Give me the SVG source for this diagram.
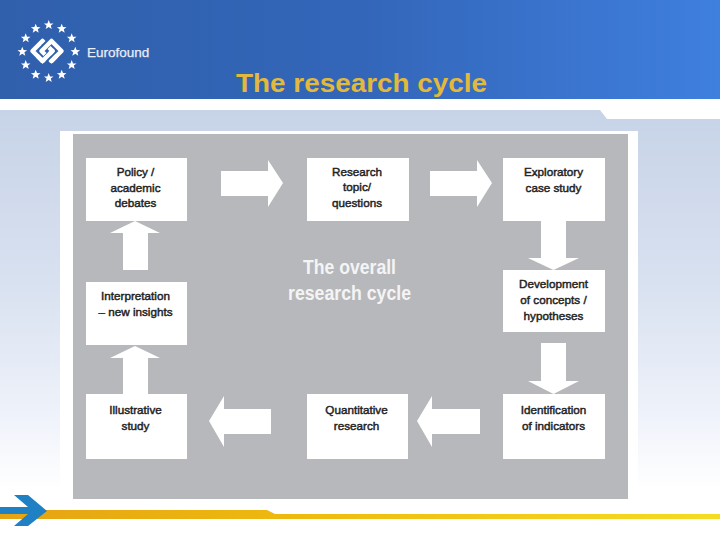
<svg xmlns="http://www.w3.org/2000/svg" width="720" height="540" viewBox="0 0 720 540">
<style>
.box{fill:#fff}
.arrow{fill:#fff}
text{font-family:"Liberation Sans",Arial,sans-serif}
.lbl{font-size:11.7px;fill:#222;stroke:#222;stroke-width:.45px;text-anchor:middle}
.big{font-size:20px;font-weight:bold;fill:#f4f4f5;text-anchor:middle}
.star{fill:#fff}
.lk{fill:none;stroke:#fff;stroke-width:4.5;stroke-linejoin:round;stroke-linecap:round}
.hl{fill:none;stroke:#3060aa;stroke-width:7}
</style>
<defs>
<linearGradient id="hd" x1="0" x2="1" y1="0" y2="0"><stop offset="0" stop-color="#3060ac"/><stop offset="0.5" stop-color="#3366b9"/><stop offset="1" stop-color="#3f7fde"/></linearGradient>
<linearGradient id="bg" x1="0" x2="0" y1="0" y2="1"><stop offset="0" stop-color="#c7d3e7"/><stop offset="0.45" stop-color="#d8e1f0"/><stop offset="0.8" stop-color="#eef2fa"/><stop offset="1" stop-color="#ffffff"/></linearGradient>
<linearGradient id="gold" x1="0" x2="1" y1="0" y2="0"><stop offset="0" stop-color="#e5a312"/><stop offset="0.4" stop-color="#eeb90f"/><stop offset="1" stop-color="#f5dc22"/></linearGradient>
<polygon id="s" points="0,-5 1.3,-1.6 4.8,-1.5 2.1,0.6 3,4 0,2 -3,4 -2.1,0.6 -4.8,-1.5 -1.3,-1.6"/>
</defs>
<rect width="720" height="540" fill="#fff"/>
<path d="M0 110H600L607 119H720V490H0Z" fill="url(#bg)"/>
<rect width="720" height="99" fill="url(#hd)"/>
<g id="logo">
<g class="star">
<use href="#s" x="48.7" y="25"/><use href="#s" x="61.7" y="28.7"/><use href="#s" x="71.7" y="38.3"/><use href="#s" x="75.3" y="51.7"/><use href="#s" x="71.7" y="65"/><use href="#s" x="61.7" y="74.7"/><use href="#s" x="48.7" y="78"/><use href="#s" x="35.7" y="74.7"/><use href="#s" x="25.700" y="65"/><use href="#s" x="22.300" y="51.7"/><use href="#s" x="25.700" y="38.3"/><use href="#s" x="35.700" y="28.7"/>
</g>
<path class="lk" d="M42.500 41L32.500 51L42.500 61L52.500 51Z"/>
<path class="hl" d="M44 47.500L49 42.500"/>
<path class="lk" d="M51.500 41L61.500 51L51.500 61L41.500 51Z"/>
<path class="hl" d="M45 54.500L50 59.500" stroke-width="6"/>
<path class="lk" d="M52.500 51L42.500 61"/>
<path class="lk" d="M42.500 61L38 56.500"/>
<path class="lk" d="M51.500 61L56 56.500"/>
<text x="87" y="56.500" font-size="13.500" fill="#e9eef7" stroke="#e9eef7" stroke-width=".25">Eurofound</text>
</g>
<text x="361.500" y="92" font-size="25.500" font-weight="bold" fill="#e2b93b" text-anchor="middle" textLength="251" lengthAdjust="spacingAndGlyphs">The research cycle</text>
<rect x="60" y="131" width="578" height="368" fill="#fff"/>
<rect x="73" y="134" width="555" height="365" fill="#b7b8bb"/>
<g id="connectors" class="arrow">
<polygon points="221,171 268,171 268,160 283,183 268,207 268,196 221,196"/>
<polygon points="430,171 477,171 477,160 492,183 477,207 477,196 430,196"/>
<polygon points="541,221 566,221 566,258 579,258 553.500,270 528,258 541,258"/>
<polygon points="541,343 566,343 566,381 579,381 553.500,394 528,381 541,381"/>
<polygon points="480,409 432,409 432,396 417,421 432,447 432,434 480,434"/>
<polygon points="271,409 224,409 224,396 209,421 224,447 224,434 271,434"/>
<polygon points="123,394 148,394 148,358 160,358 135,346 110,358 123,358"/>
<polygon points="123,270 148,270 148,233 160,233 135,221 110,233 123,233"/>
</g>
<g id="n1"><rect class="box" x="86" y="158" width="101" height="63"/><text class="lbl"><tspan x="135.500" y="176">Policy /</tspan><tspan x="135.500" y="191.500">academic</tspan><tspan x="135.500" y="207">debates</tspan></text></g>
<g id="n2"><rect class="box" x="307" y="158" width="102" height="63"/><text class="lbl"><tspan x="357" y="175.500">Research</tspan><tspan x="357" y="191">topic/</tspan><tspan x="357" y="207">questions</tspan></text></g>
<g id="n3"><rect class="box" x="503" y="158" width="102" height="63"/><text class="lbl"><tspan x="553.500" y="176">Exploratory</tspan><tspan x="553.500" y="192">case study</tspan></text></g>
<g id="n4"><rect class="box" x="503" y="270" width="102" height="62"/><text class="lbl"><tspan x="553.500" y="288">Development</tspan><tspan x="553.500" y="304">of concepts /</tspan><tspan x="553.500" y="320">hypotheses</tspan></text></g>
<g id="n5"><rect class="box" x="503" y="394" width="102" height="65"/><text class="lbl"><tspan x="553.500" y="414">Identification</tspan><tspan x="553.500" y="430">of indicators</tspan></text></g>
<g id="n6"><rect class="box" x="307" y="394" width="101" height="65"/><text class="lbl"><tspan x="356.500" y="414">Quantitative</tspan><tspan x="356.500" y="430">research</tspan></text></g>
<g id="n7"><rect class="box" x="86" y="394" width="101" height="65"/><text class="lbl"><tspan x="135.500" y="414">Illustrative</tspan><tspan x="135.500" y="430">study</tspan></text></g>
<g id="n8"><rect class="box" x="86" y="282" width="101" height="63"/><text class="lbl"><tspan x="135.500" y="300">Interpretation</tspan><tspan x="135.500" y="316">– new insights</tspan></text></g>
<g id="center"><text class="big" x="349.500" y="274" textLength="93" lengthAdjust="spacingAndGlyphs">The overall</text><text class="big" x="349.500" y="300" textLength="123" lengthAdjust="spacingAndGlyphs">research cycle</text></g>
<g id="footer">
<polygon points="0,510 267,510 275,514 720,514 720,519 0,519" fill="url(#gold)"/>
<polygon points="0,507 28,507 14,495 28,495 47,511 28,526 14,526 28,514 0,514" fill="#1f80c4"/>
</g>
</svg>
